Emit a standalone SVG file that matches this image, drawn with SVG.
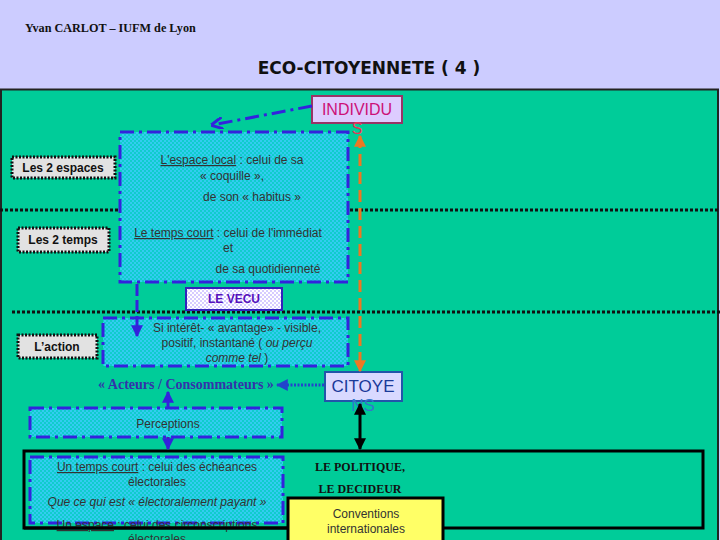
<svg xmlns="http://www.w3.org/2000/svg" width="720" height="540" viewBox="0 0 720 540">
<style>
.t{font-family:"Liberation Sans",Arial,sans-serif;font-size:12px;fill:#333;}
.lbl{font-family:"Liberation Sans",Arial,sans-serif;font-size:12px;font-weight:bold;fill:#111;}
.tb{font-family:"Liberation Serif","Times New Roman",serif;font-weight:bold;}
.lblbox{fill:#E2E2E2;stroke:#111;stroke-width:3;stroke-dasharray:2 1.5;}
.dd{fill:url(#chk);stroke:#3322DD;stroke-width:3;stroke-dasharray:14 5 3 5;}
.sep{stroke:#111;stroke-width:3;stroke-dasharray:3 2;fill:none;}
</style>
<defs>
<pattern id="chk" width="4" height="4" patternUnits="userSpaceOnUse">
<rect width="4" height="4" fill="#10CCCC"/>
<rect width="2" height="2" fill="#33CCF0"/>
<rect x="2" y="2" width="2" height="2" fill="#33CCF0"/>
</pattern>
<pattern id="chk2" width="4" height="4" patternUnits="userSpaceOnUse">
<rect width="4" height="4" fill="#FFFFFF"/>
<rect width="2" height="2" fill="#D6CCFF"/>
<rect x="2" y="2" width="2" height="2" fill="#D6CCFF"/>
</pattern>
<marker id="ab" viewBox="0 0 10 10" refX="9" refY="5" markerWidth="4" markerHeight="4" orient="auto-start-reverse"><path d="M0,0 L10,5 L0,10 z" fill="#3322DD"/></marker>
<marker id="abo" viewBox="0 0 10 10" refX="9" refY="5" markerWidth="4" markerHeight="4" orient="auto-start-reverse"><path d="M0,0 L10,5 L0,10" fill="none" stroke="#3322DD" stroke-width="2.5"/></marker>
<marker id="ao" viewBox="0 0 10 10" refX="9" refY="5" markerWidth="4" markerHeight="4" orient="auto-start-reverse"><path d="M0,0 L10,5 L0,10 z" fill="#EE7722"/></marker>
<marker id="ak" viewBox="0 0 10 10" refX="9" refY="5" markerWidth="4" markerHeight="4" orient="auto-start-reverse"><path d="M0,0 L10,5 L0,10 z" fill="#000"/></marker>
<marker id="ad" viewBox="0 0 10 10" refX="9" refY="5" markerWidth="4" markerHeight="4" orient="auto-start-reverse"><path d="M0,0 L10,5 L0,10 z" fill="#2244CC"/></marker>
</defs>

<rect width="720" height="540" fill="#CCCCFF"/>
<text x="25" y="32" class="tb" font-size="12.2" fill="#111">Yvan CARLOT – IUFM de Lyon</text>
<text x="369" y="74" text-anchor="middle" font-family="'DejaVu Sans',sans-serif" font-weight="bold" font-size="17" fill="#111">ECO-CITOYENNETE ( 4 )</text>

<rect x="1" y="89.5" width="717" height="460" fill="#00CC99" stroke="#222" stroke-width="2"/>

<line class="sep" x1="0" y1="210" x2="720" y2="210"/>
<line class="sep" x1="12" y1="312" x2="720" y2="312"/>

<g id="espaces"><rect class="dd" x="120" y="132" width="228" height="150"/></g>
<g id="texte-espace">
<text class="t" x="232" y="164" text-anchor="middle"><tspan text-decoration="underline">L'espace local</tspan> : celui de sa</text>
<text class="t" x="232" y="180" text-anchor="middle">« coquille »,</text>
<text class="t" x="252" y="201" text-anchor="middle">de son « habitus »</text>
<text class="t" x="228" y="237" text-anchor="middle"><tspan text-decoration="underline">Le temps court</tspan> : celui de l'immédiat</text>
<text class="t" x="228" y="252" text-anchor="middle">et</text>
<text class="t" x="268" y="273" text-anchor="middle">de sa quotidienneté</text>
</g>

<g id="les2espaces"><rect class="lblbox" x="12" y="157" width="103" height="21"/><text class="lbl" x="63" y="172" text-anchor="middle">Les 2 espaces</text></g>
<g id="les2temps"><rect class="lblbox" x="18" y="228" width="91" height="24"/><text class="lbl" x="63" y="244" text-anchor="middle">Les 2 temps</text></g>
<g id="laction"><rect class="lblbox" x="18" y="335" width="79" height="23"/><text class="lbl" x="57" y="351" text-anchor="middle">L’action</text></g>

<g id="vecu"><rect x="186" y="288" width="96" height="22" fill="url(#chk2)" stroke="#3322BB" stroke-width="2"/><text x="234" y="303" text-anchor="middle" font-family="'Liberation Sans',Arial,sans-serif" font-size="12" font-weight="bold" fill="#5511BB">LE VECU</text></g>

<g id="action"><rect class="dd" x="103" y="318" width="245" height="48"/>
<text class="t" x="237" y="332" text-anchor="middle">Si intérêt- « avantage» - visible,</text>
<text class="t" x="237" y="347" text-anchor="middle">positif, instantané ( <tspan font-style="italic">ou perçu</tspan></text>
<text class="t" x="237" y="362" text-anchor="middle"><tspan font-style="italic">comme tel</tspan> )</text>
</g>

<g id="acteurs"><text x="186" y="389" text-anchor="middle" class="tb" font-size="14" fill="#3333AA">« Acteurs / Consommateurs »</text></g>

<g id="individus"><rect x="312" y="96" width="90" height="27" fill="#DDCCFF" stroke="#993366" stroke-width="2"/>
<text x="357" y="115" text-anchor="middle" font-family="'Liberation Sans',Arial,sans-serif" font-size="16" fill="#CC1177">INDIVIDU</text>
<text x="357" y="134" text-anchor="middle" font-family="'Liberation Sans',Arial,sans-serif" font-size="16" fill="#EE3355">S</text></g>

<g id="citoyens"><rect x="325" y="372" width="77" height="29" fill="#D9D9FF" stroke="#2255AA" stroke-width="2"/>
<text x="363" y="392" text-anchor="middle" font-family="'Liberation Sans',Arial,sans-serif" font-size="17" fill="#1A3A99">CITOYE</text>
<text x="363" y="411" text-anchor="middle" font-family="'Liberation Sans',Arial,sans-serif" font-size="17" fill="#3377CC">NS</text></g>

<g id="perceptions"><rect class="dd" x="30" y="408" width="252" height="29"/>
<text class="t" x="168" y="428" text-anchor="middle">Perceptions</text></g>

<g id="politique"><rect x="24" y="451" width="679" height="77" fill="none" stroke="#000" stroke-width="3"/>
<text x="360" y="471" text-anchor="middle" class="tb" font-size="12" fill="#111">LE POLITIQUE,</text>
<text x="360" y="493" text-anchor="middle" class="tb" font-size="12" fill="#111">LE DECIDEUR</text></g>

<g id="electoral"><rect class="dd" x="30" y="457" width="253" height="66"/>
<text class="t" x="157" y="471" text-anchor="middle"><tspan text-decoration="underline">Un temps court</tspan> : celui des échéances</text>
<text class="t" x="157" y="486" text-anchor="middle">électorales</text>
<text class="t" x="157" y="506" text-anchor="middle" font-style="italic">Que ce qui est « électoralement payant »</text>
<text class="t" x="157" y="529" text-anchor="middle"><tspan text-decoration="underline">Un espace</tspan> : celui des circonscriptions</text>
<text class="t" x="157" y="543" text-anchor="middle">électorales</text>
</g>
<line x1="24" y1="528" x2="287" y2="528" stroke="#000" stroke-width="3"/>

<g id="conventions"><rect x="288" y="498" width="155" height="50" fill="#FFFF66" stroke="#000" stroke-width="3"/>
<text class="t" x="366" y="518" text-anchor="middle" fill="#222">Conventions</text>
<text class="t" x="366" y="533" text-anchor="middle" fill="#222">internationales</text></g>

<g id="connectors">
<line x1="312" y1="106" x2="212" y2="125" stroke="#3322DD" stroke-width="3" stroke-dasharray="14 5 3 5" marker-end="url(#abo)"/>
<line x1="360" y1="136" x2="360" y2="371" stroke="#EE7722" stroke-width="3" stroke-dasharray="12 6" marker-start="url(#ao)" marker-end="url(#ao)"/>
<line x1="137" y1="284" x2="137" y2="336" stroke="#3322DD" stroke-width="3" stroke-dasharray="12 4" marker-end="url(#ab)"/>
<line x1="324" y1="385" x2="277" y2="385" stroke="#2244CC" stroke-width="3" stroke-dasharray="2 1.5" marker-end="url(#ad)"/>
<line x1="168" y1="407" x2="168" y2="392" stroke="#3322DD" stroke-width="3" marker-end="url(#ab)"/>
<line x1="168" y1="437" x2="168" y2="449" stroke="#5511BB" stroke-width="3" marker-end="url(#ab)"/>
<line x1="360" y1="404" x2="360" y2="449" stroke="#000" stroke-width="3" marker-start="url(#ak)" marker-end="url(#ak)"/>
</g>
</svg>
